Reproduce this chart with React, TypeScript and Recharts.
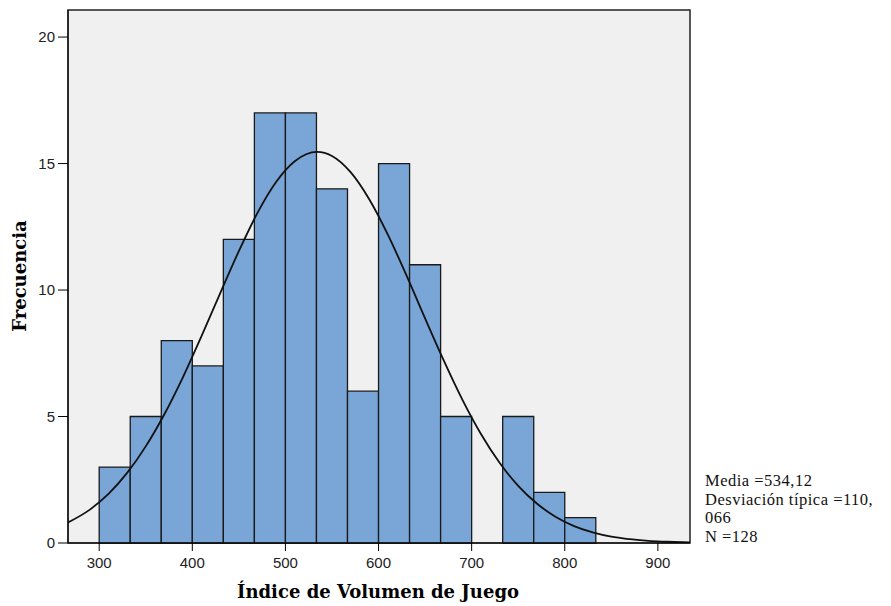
import React from 'react';
import { ComposedChart, XAxis, YAxis, Line, ReferenceArea } from 'recharts';

const binStarts = [300, 333.33, 366.67, 400, 433.33, 466.67, 500, 533.33, 566.67, 600, 633.33, 666.67, 700, 733.33, 766.67, 800];
const binWidth = 33.33;
const counts = [3, 5, 8, 7, 12, 17, 17, 14, 6, 15, 11, 5, 0, 5, 2, 1];

const curveX = [266.5, 290, 310, 330, 350, 370, 390, 410, 430, 450, 470, 490, 510, 534, 550, 570, 590, 610, 630, 650, 670, 690, 710, 730, 750, 770, 790, 810, 830, 850, 870, 890, 910, 934.5];
const curveY = [0.81, 1.32, 1.94, 2.77, 3.82, 5.09, 6.56, 8.19, 9.88, 11.54, 13.05, 14.27, 15.09, 15.46, 15.3, 14.66, 13.59, 12.19, 10.58, 8.88, 7.22, 5.67, 4.31, 3.17, 2.26, 1.56, 1.04, 0.67, 0.42, 0.25, 0.15, 0.08, 0.05, 0.02];

const xTicks = [300, 400, 500, 600, 700, 800, 900];
const yTicks = [0, 5, 10, 15, 20];
const xDomain: [number, number] = [266.5, 934.5];
const yDomain: [number, number] = [0, 21.07];

const statLines = ['Media =534,12', 'Desviación típica =110,', '066', 'N =128'];
const xTitle = 'Índice de Volumen de Juego';
const yTitle = 'Frecuencia';

const curveData = curveX.map((x, i) => ({ x, y: curveY[i] }));

export default function App() {
  return (
    <div style={{ position: 'absolute', left: 0, top: 0, width: 891, height: 606, background: '#fff' }}>
      <ComposedChart width={891} height={606} data={curveData} margin={{ top: 10, right: 201, bottom: 0, left: 0 }}>
        <XAxis
          type="number"
          dataKey="x"
          domain={xDomain}
          ticks={xTicks}
          allowDataOverflow
          height={63}
          tickSize={8}
          tickMargin={6}
          stroke="#000"
          tick={{ fill: '#222', fontSize: 15, fontFamily: 'Liberation Sans, Arial, sans-serif' }}
        />
        <YAxis
          type="number"
          domain={yDomain}
          ticks={yTicks}
          allowDataOverflow
          width={68}
          tickSize={10}
          tickMargin={3}
          stroke="#000"
          tick={{ fill: '#222', fontSize: 15, fontFamily: 'Liberation Sans, Arial, sans-serif' }}
        />
        <ReferenceArea x1={xDomain[0]} x2={xDomain[1]} y1={yDomain[0]} y2={yDomain[1]} fill="#f0f0f0" fillOpacity={1} stroke="#222" strokeWidth={1.5} />
        {binStarts.map((s, i) =>
          counts[i] > 0 ? (
            <ReferenceArea key={i} x1={s} x2={s + binWidth} y1={0} y2={counts[i]} fill="#79a6d6" fillOpacity={1} stroke="#1a1a1a" strokeWidth={1.3} />
          ) : null
        )}
        <Line type="monotone" dataKey="y" stroke="#111" strokeWidth={1.8} dot={false} isAnimationActive={false} />
      </ComposedChart>
      <div style={{ position: 'absolute', left: 378 - 200, width: 400, top: 580, textAlign: 'center', fontFamily: 'DejaVu Serif, serif', fontWeight: 'bold', fontSize: 18, lineHeight: '24px', color: '#000' }}>{xTitle}</div>
      <div style={{ position: 'absolute', left: 20 - 100, width: 200, top: 276 - 12, textAlign: 'center', transform: 'rotate(-90deg)', fontFamily: 'DejaVu Serif, serif', fontWeight: 'bold', fontSize: 18, lineHeight: '24px', color: '#000' }}>{yTitle}</div>
      <div style={{ position: 'absolute', left: 705, top: 472, fontFamily: 'Liberation Serif, Times New Roman, serif', fontSize: 16.5, letterSpacing: '0.5px', lineHeight: '18.5px', color: '#111', whiteSpace: 'pre' }}>
        {statLines.map((l, i) => (
          <div key={i} style={{ height: 18.5 }}>{l}</div>
        ))}
      </div>
    </div>
  );
}
